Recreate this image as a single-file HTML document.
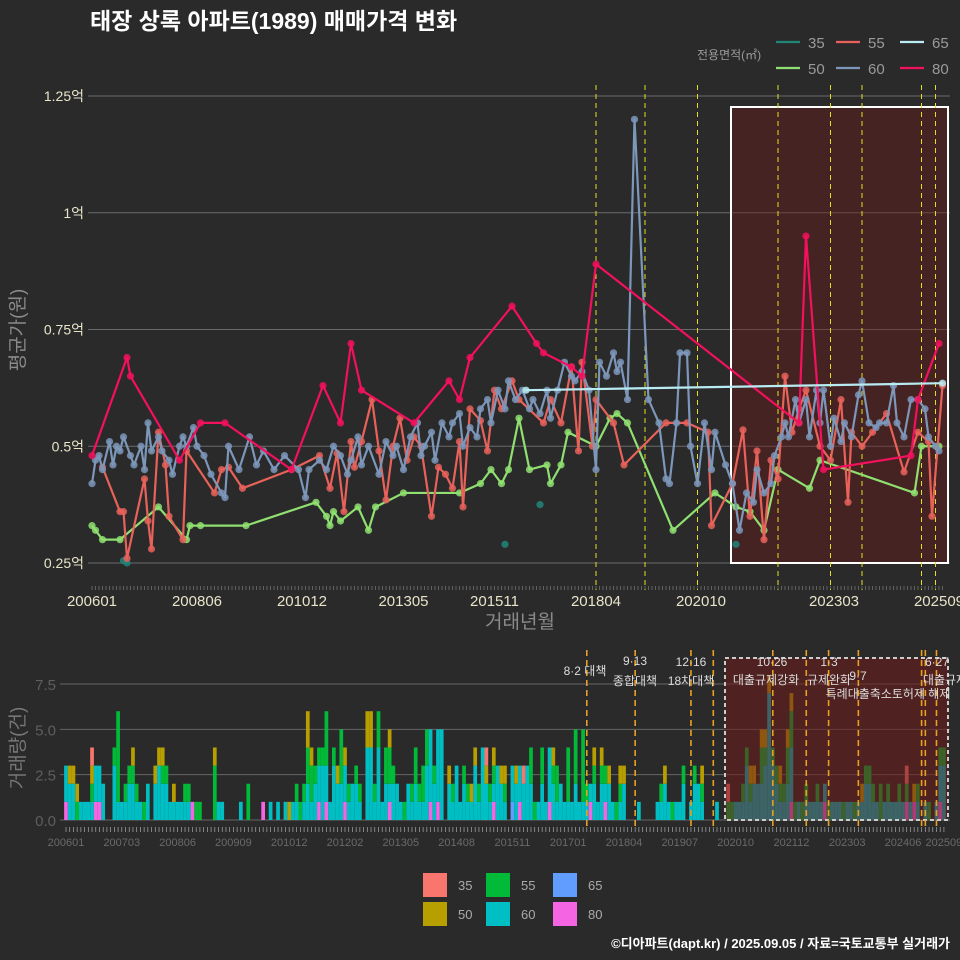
<!DOCTYPE html>
<html><head><meta charset="utf-8"><style>
html,body{margin:0;padding:0;background:#2a2a2b;}
svg{display:block;font-family:"Liberation Sans","Noto Sans CJK KR",sans-serif;}
</style></head><body>
<svg id="c" width="960" height="960" viewBox="0 0 960 960">
<rect x="0" y="0" width="960" height="960" fill="#2a2a2b"/>
<text x="90" y="29" font-size="23" font-weight="bold" fill="#ffffff">태장 상록 아파트(1989) 매매가격 변화</text>
<text x="697" y="59" font-size="12" fill="#9a9a9a">전용면적(㎡)</text>
<text x="520" y="628" font-size="19" fill="#8a8a8a" text-anchor="middle">거래년월</text>
<text transform="translate(24,330) rotate(-90)" font-size="19" fill="#8a8a8a" text-anchor="middle">평균가(원)</text>
<text transform="translate(24,748) rotate(-90)" font-size="19" fill="#777" text-anchor="middle">거래량(건)</text>
<text x="950" y="948" font-size="13" font-weight="bold" fill="#ffffff" text-anchor="end">©디아파트(dapt.kr) / 2025.09.05 / 자료=국토교통부 실거래가</text>
<g id="topg"></g><g id="botg"></g><g id="legg"></g>
</svg>
<script>
// ---------- top chart data (x = month slot, y = price in 억) ----------
const priceTicks=[0.25,0.5,0.75,1,1.25];
const priceTickLabels=["0.25억","0.5억","0.75억","1억","1.25억"];
const xTickSlots=[0,30,60,89,115,144,174,212,242];
const xTickLabels=["200601","200806","201012","201305","201511","201804","202010","202303","202509"];
const s60x=[0,1,2,3,5,6,7,8,9,11,12,14,15,16,17,19,20,22,23,25,26,27,29,30,32,34,37,38,39,42,45,47,49,52,55,59,61,62,65,67,69,71,73,74,76,77,79,82,84,86,87,89,91,93,94,95,97,98,100,102,103,105,106,108,110,111,113,114,116,118,119,121,123,125,126,128,130,131,133,135,137,138,140,142,144,145,147,149,150,151,153,155,159,162,164,165,167,168,170,171,173,175,177,178,181,183,185,187,189,190,192,194,195,197,198,199,201,202,204,205,207,208,209,211,212,214,215,217,219,220,222,224,225,227,229,230,232,234,236,238,239,241,242];
const s60y=[.42,.47,.48,.45,.51,.46,.50,.49,.52,.48,.46,.50,.45,.55,.49,.52,.49,.47,.44,.50,.52,.50,.54,.50,.48,.44,.40,.39,.50,.45,.52,.46,.49,.45,.48,.45,.39,.45,.47,.45,.50,.48,.44,.47,.52,.46,.50,.44,.51,.48,.50,.45,.52,.55,.48,.50,.53,.47,.55,.52,.55,.57,.50,.54,.52,.58,.60,.55,.62,.58,.64,.60,.62,.58,.60,.57,.62,.56,.62,.68,.65,.64,.66,.62,.45,.68,.65,.70,.66,.68,.60,1.20,.60,.55,.43,.42,.55,.70,.70,.50,.42,.55,.45,.53,.46,.42,.32,.40,.38,.45,.40,.42,.48,.52,.55,.52,.60,.55,.60,.52,.62,.55,.62,.50,.56,.51,.55,.52,.61,.64,.55,.54,.55,.55,.63,.55,.52,.60,.60,.58,.52,.50,.49];
const s55x=[3,8,9,10,15,16,17,19,21,22,26,27,35,37,39,43,57,65,68,70,72,74,75,77,80,82,84,86,88,90,92,94,97,99,101,103,105,106,108,111,113,115,117,120,122,129,131,134,137,139,140,143,144,149,152,164,170,176,177,183,186,188,190,192,194,196,198,200,202,204,208,211,214,216,217,220,223,227,232,236,239,240,243];
const s55y=[.455,.36,.36,.26,.43,.34,.28,.53,.46,.35,.30,.49,.40,.45,.455,.41,.45,.48,.41,.485,.36,.51,.455,.51,.60,.49,.385,.50,.56,.47,.52,.50,.35,.455,.44,.41,.51,.37,.58,.555,.49,.62,.58,.64,.60,.55,.60,.55,.67,.49,.68,.50,.60,.55,.46,.55,.55,.53,.33,.42,.535,.35,.49,.30,.47,.43,.65,.53,.58,.62,.50,.47,.60,.38,.53,.50,.53,.57,.445,.53,.51,.35,.63];
const s50x=[0,1,3,8,19,27,28,31,44,64,67,68,69,71,76,79,81,89,105,111,114,117,119,122,125,130,131,134,136,144,148,150,153,166,178,184,188,192,196,205,208,235,237,242];
const s50y=[.33,.32,.30,.30,.37,.30,.33,.33,.33,.38,.35,.33,.36,.34,.37,.32,.37,.40,.40,.42,.45,.42,.45,.56,.45,.46,.42,.46,.53,.50,.56,.57,.55,.32,.40,.37,.36,.32,.45,.41,.47,.40,.50,.50];
const s80x=[0,10,11,25,31,38,57,66,71,74,77,92,102,105,108,120,127,129,137,140,144,202,204,209,234,236,242];
const s80y=[.48,.69,.65,.47,.55,.55,.45,.63,.55,.72,.62,.55,.64,.60,.69,.80,.72,.70,.67,.65,.89,.55,.95,.45,.48,.60,.72];
const s65x=[124,243];
const s65y=[.62,.635];
const s35x=[9,10,118,128,184];
const s35y=[.255,.25,.29,.375,.29];
const policyTopSlots=[144,158,173,196,211,220,237,241];
// ---------- bottom chart data (monthly counts 2006-01 .. 2025-09) ----------
const volTicks=[0,2.5,5,7.5];
const volTickLabels=["0.0","2.5","5.0","7.5"];
const volXTickMonths=[0,15,30,45,60,75,90,105,120,135,150,165,180,195,210,225,236];
const volXTickLabels=["200601","200703","200806","200909","201012","201202","201305","201408","201511","201701","201804","201907","202010","202112","202303","202406","202509"];
const v60="222011112220"+"031112211020"+"232211111100"+"000001100001"+"000000010101"+"011012122321"+"322212210441"+"412122102121"+"134245021312"+"113142113210"+"222232012132"+"121112111121"+"212101200010"+"000112101120"+"122100010000"+"111312223732"+"112301011111"+"101110110112"+"211011111101"+"010100123";
const v55="000100010000"+"015011110100"+"001100001101"+"100030000000"+"020000000000"+"001112211130"+"103010110001"+"202210010121"+"220100001001"+"100100110010"+"000002102001"+"200303041010"+"110011000000"+"000010010010"+"010100000011"+"001110021011"+"112210110010"+"010001001001"+"110201001010"+"010010011";
const v50="011100010000"+"000000100000"+"111001000000"+"000010000000"+"000000000000"+"100002100000"+"010100000220"+"000100000000"+"000000010000"+"011001010110"+"010000000001"+"000000000010"+"101001100000"+"000001000000"+"000100000000"+"000011011100"+"101100000000"+"000000000010"+"000000000000"+"100000000";
const v80="100000001100"+"000000000000"+"000000000010"+"000000000000"+"000001000000"+"000000001010"+"000100000000"+"000100000000"+"001010000000"+"000000010000"+"001000000010"+"000000000100"+"010000000000"+"000000000000"+"000000000000"+"000000000000"+"000100000000"+"100000000000"+"000000000010"+"100000010";
const v35="000000010000"+"000000000000"+"000000000000"+"000000000000"+"000000000000"+"000000000000"+"000000000000"+"000000000000"+"000000000000"+"000001000000"+"000100000000"+"000000000000"+"000000000000"+"000000000000"+"000000000010"+"000000000000"+"000000000000"+"000000000000"+"000000000010"+"000000000";
const v65="000000000000"+"000000000000"+"000000000000"+"000000000000"+"000000000000"+"000000000000"+"000000000000"+"000000000000"+"000000000000"+"000000000000"+"100000000000"+"000000000000"+"000000000000"+"000000000000"+"000000000000"+"000000000000"+"000000000000"+"000000000000"+"000000000000"+"000000000";
const policyBotMonths=[140,153,168,174,190,199,205,213,230,231,234];
const policyLabels=[["8·2 대책",585,675],["9·13",635,665],["종합대책",635,685],["12·16",691,666],["18차대책",691,685],["10·26",772,666],["대출규제강화",766,684],["1·3",829,666],["규제완화",829,684],["9·7",858,680],["특례대출축소토허제 해제",888,698],["6·27",937,666],["대출규제",945,684]];

const NS="http://www.w3.org/2000/svg";
function mk(tag,attrs,parent){const e=document.createElementNS(NS,tag);for(const k in attrs)e.setAttribute(k,attrs[k]);parent.appendChild(e);return e;}
const gTop=document.getElementById('topg'),gBot=document.getElementById('botg'),gLeg=document.getElementById('legg');
// scales
const xT=s=>92+s*3.5;
const yT=v=>563-(v-0.25)/0.25*116.75;
const xB=i=>66+i*3.72;
const yB=v=>820-v*18.13;

// top grid
priceTicks.forEach((t,k)=>{
 const g=mk('line',{x1:88,x2:950,y1:yT(t),y2:yT(t),stroke:'#6a6a6a','stroke-width':1},gTop);
 
 
 const l=mk('text',{x:84,y:yT(t)+5,'font-size':14,fill:'#e8e4c8','text-anchor':'end'},gTop);
 l.textContent=priceTickLabels[k];
 
 
});
for(let s=0;s<=243;s++){
 const tk=mk('line',{x1:xT(s),x2:xT(s),y1:586,y2:590,stroke:'#888','stroke-width':0.6},gTop);
 
 
}
xTickSlots.forEach((s,k)=>{
 const l=mk('text',{x:xT(s),y:606,'font-size':15,fill:'#e8e4c8','text-anchor':'middle'},gTop);
 l.textContent=xTickLabels[k];
 
 
});
// highlight rect
const hr=mk('rect',{x:731,y:107,width:217,height:456,fill:'rgba(110,25,25,0.4)',stroke:'#ffffff','stroke-width':2},gTop);


policyTopSlots.forEach(s=>{
 const l=mk('line',{x1:xT(s),x2:xT(s),y1:85,y2:590,stroke:'#e0e020','stroke-width':1,'stroke-dasharray':'5,4'},gTop);
 
 
});
function series(xs,ys,color,name,line){
 if(line){
  const p=mk('polyline',{points:xs.map((x,i)=>xT(x)+','+yT(ys[i])).join(' '),fill:'none',stroke:color,'stroke-width':2.2,'stroke-linejoin':'round'},gTop);
  
  
 }
 xs.forEach((x,i)=>{
  const c=mk('circle',{cx:xT(x),cy:yT(ys[i]),r:3.6,fill:color,'fill-opacity':0.85},gTop);
  
  
 });
}
series(s35x,s35y,'#21867a','35',false);
series(s50x,s50y,'#8fe070','50',true);
series(s55x,s55y,'#e8625a','55',true);
series(s60x,s60y,'#7c97ba','60',true);
series(s80x,s80y,'#f3105c','80',true);
series(s65x,s65y,'#b8ecf2','65',true);

// top legend
[["35",'#21867a',776,42],["55",'#e8625a',836,42],["65",'#b8ecf2',900,42],["50",'#8fe070',776,68],["60",'#7c97ba',836,68],["80",'#f3105c',900,68]].forEach(e=>{
 const g=mk('g',{},gLeg);
 
 
 mk('line',{x1:e[2],x2:e[2]+24,y1:e[3],y2:e[3],stroke:e[1],'stroke-width':2.2},g);
 const t=mk('text',{x:e[2]+32,y:e[3]+6,'font-size':15,fill:'#9a9a9a'},g);
 t.textContent=e[0];
});

// bottom chart
volTicks.forEach((t,k)=>{
 const g=mk('line',{x1:60,x2:950,y1:yB(t),y2:yB(t),stroke:'#666','stroke-width':1},gBot);
 
 
 const l=mk('text',{x:56,y:yB(t)+6,'font-size':15,fill:'#5e5e5e','text-anchor':'end'},gBot);
 l.textContent=volTickLabels[k];
 
 
});
const stack=[[v80,'#f564e3','80'],[v65,'#619cff','65'],[v60,'#00bfc4','60'],[v55,'#00ba38','55'],[v50,'#b79f00','50'],[v35,'#f8766d','35']];
for(let i=0;i<v60.length;i++){
 let base=0;
 stack.forEach(sv=>{
  const n=+sv[0][i]||0;
  if(n>0){
   const r=mk('rect',{x:xB(i)-1.86,y:yB(base+n),width:3.72,height:yB(base)-yB(base+n),fill:sv[1]},gBot);
   
   
   base+=n;
  }
 });
}
for(let i=0;i<=236;i++){
 const tk=mk('line',{x1:xB(i),x2:xB(i),y1:827,y2:832,stroke:'#aaa','stroke-width':0.7},gBot);
 
 
}
volXTickMonths.forEach((m,k)=>{
 const l=mk('text',{x:xB(m),y:846,'font-size':11,fill:'#6a6a6a','text-anchor':'middle'},gBot);
 l.textContent=volXTickLabels[k];
 
 
});
const br=mk('rect',{x:725,y:658,width:223,height:162,fill:'rgba(110,25,25,0.55)',stroke:'#cccccc','stroke-width':2,'stroke-dasharray':'4,3'},gBot);


policyBotMonths.forEach(m=>{
 const l=mk('line',{x1:xB(m),x2:xB(m),y1:650,y2:828,stroke:'#e8a020','stroke-width':1.6,'stroke-dasharray':'6,4'},gBot);
 
 
});
policyLabels.forEach(p=>{
 const t=mk('text',{x:p[1],y:p[2],'font-size':12,fill:'#dddddd','text-anchor':'middle'},gBot);
 t.textContent=p[0];
 
 
});
// bottom legend
[["35",'#f8766d',423,873],["50",'#b79f00',423,902],["55",'#00ba38',486,873],["60",'#00bfc4',486,902],["65",'#619cff',553,873],["80",'#f564e3',553,902]].forEach(e=>{
 const g=mk('g',{},gLeg);
 
 
 mk('rect',{x:e[2],y:e[3],width:24,height:24,fill:e[1]},g);
 const t=mk('text',{x:e[2]+35,y:e[3]+17,'font-size':13,fill:'#aaaaaa'},g);
 t.textContent=e[0];
});
</script>
</body></html>
